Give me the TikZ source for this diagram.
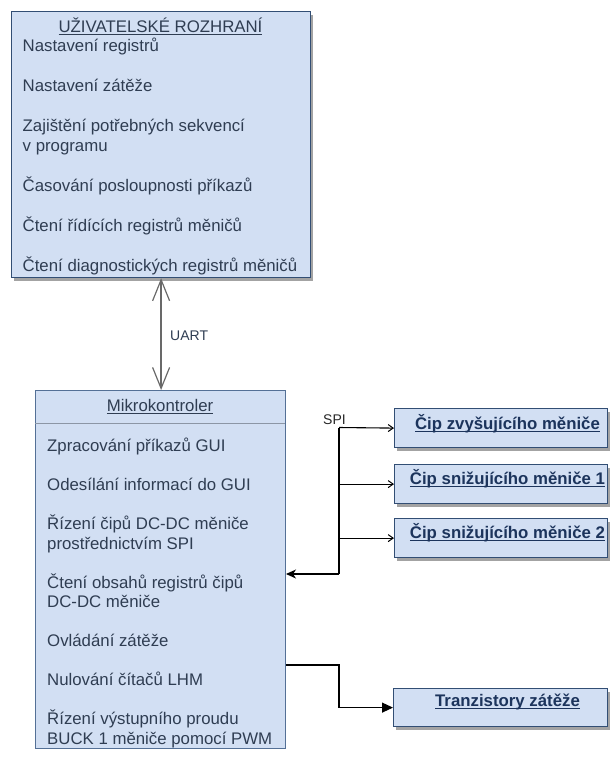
\documentclass[tikz,border=0pt]{standalone}
\usepackage{fontspec}
\setmainfont{Liberation Sans}
\usetikzlibrary{arrows.meta,shadows}
\definecolor{boxfill}{RGB}{210,223,243}
\definecolor{boxline}{RGB}{50,78,116}
\definecolor{mculine}{RGB}{84,112,150}
\definecolor{itemtext}{RGB}{47,61,82}
\definecolor{chiptext}{RGB}{28,52,92}
\definecolor{uartgray}{RGB}{105,105,105}
\definecolor{divgray}{RGB}{140,150,165}
\newcommand\myul[1]{\setbox0\hbox{#1}\rlap{\rule[-2.6pt]{\wd0}{0.9pt}}\box0}
\begin{document}
\begin{tikzpicture}[x=1pt,y=-1pt,
  every node/.style={font=\fontsize{16.8}{20}\selectfont},
  panel/.style={draw=boxline, line width=1.2pt, fill=boxfill, inner sep=0pt, anchor=north west,
    drop shadow={shadow xshift=2.5pt,shadow yshift=-3pt,fill=black!40,opacity=0.9}},
  mcubox/.style={draw=mculine, line width=1pt, fill=boxfill, inner sep=0pt, anchor=north west},
  item/.style={anchor=base west, inner sep=0pt, text=itemtext},
  headtxt/.style={anchor=base, inner sep=0pt, text=itemtext},
  chiptxt/.style={anchor=base, inner sep=0pt, text=chiptext, font=\fontsize{16.8}{20}\selectfont\bfseries},
  smalltxt/.style={anchor=base west, inner sep=0pt, font=\fontsize{14}{16}\selectfont},
  wire/.style={draw=black, line width=1.1pt},
  uart/.style={draw=uartgray, line width=1.9pt,
    arrows={Straight Barb[length=21pt,width=17pt,line width=1.2pt]-Straight Barb[length=21pt,width=17pt,line width=1.2pt]}},
  chiparrow/.style={wire, -{Straight Barb[length=5pt,width=7pt,line width=1pt]}},
  inarrow/.style={wire, -{Stealth[length=10pt,width=9pt,inset=3pt]}},
  trarrow/.style={wire, -{Triangle[length=11pt,width=10pt]}}
]
\useasboundingbox (0,0) rectangle (613,758);

% user interface box
\node[panel, minimum width=299pt, minimum height=266pt] (ui) at (11,11) {};
\node[headtxt] (ut) at (160.5,32) {\myul{UŽIVATELSKÉ ROZHRANÍ}};
\node[item] (u1) at (22.5,51) {Nastavení registrů};
\node[item] (u2) at (22.5,91) {Nastavení zátěže};
\node[item] (u3) at (22.5,131) {Zajištění potřebných sekvencí};
\node[item] (u4) at (22.5,151) {v programu};
\node[item] (u5) at (22.5,191) {Časování posloupnosti příkazů};
\node[item] (u6) at (22.5,231) {Čtení řídících registrů měničů};
\node[item] (u7) at (22.5,271) {Čtení diagnostických registrů měničů};

% microcontroller box
\node[mcubox, minimum width=250pt, minimum height=358pt] (mcu) at (35,390) {};
\coordinate (dvl) at (35,423);
\coordinate (dvr) at (285,423);
\draw[divgray, line width=1pt] (dvl) -- (dvr);
\node[headtxt] (mt) at (160,411.5) {\myul{Mikrokontroler}};
\node[item] (m1) at (47,451.5) {Zpracování příkazů GUI};
\node[item] (m2) at (47,490.5) {Odesílání informací do GUI};
\node[item] (m3) at (47,529.5) {Řízení čipů DC-DC měniče};
\node[item] (m4) at (47,549) {prostřednictvím SPI};
\node[item] (m5) at (47,588) {Čtení obsahů registrů čipů};
\node[item] (m6) at (47,607.5) {DC-DC měniče};
\node[item] (m7) at (47,646.5) {Ovládání zátěže};
\node[item] (m8) at (47,685.5) {Nulování čítačů LHM};
\node[item] (m9) at (47,724.5) {Řízení výstupního proudu};
\node[item] (m10) at (47,744) {BUCK 1 měniče pomocí PWM};

% chip boxes
\node[panel, minimum width=213pt, minimum height=39pt] (c1) at (394,408) {};
\node[panel, minimum width=213pt, minimum height=39pt] (c2) at (394,464) {};
\node[panel, minimum width=213pt, minimum height=39pt] (c3) at (394,518) {};
\node[panel, minimum width=214pt, minimum height=38pt] (tr) at (393,688) {};
\node[chiptxt] (c1t) at (507.5,429) {\myul{Čip zvyšujícího měniče}};
\node[chiptxt] (c2t) at (507.5,484.5) {\myul{Čip snižujícího měniče 1}};
\node[chiptxt] (c3t) at (507.5,538.5) {\myul{Čip snižujícího měniče 2}};
\node[chiptxt] (trt) at (507.5,706) {\myul{Tranzistory zátěže}};

% UART link
\draw[uart] (ui.south) -- (ui.south |- mcu.north);
\node[smalltxt, text=itemtext] (uartlbl) at (170,340.5) {UART};

% SPI bus
\coordinate (spitop) at (339,427.5);
\coordinate (spibot) at (339,574);
\node[smalltxt, text=black!85] (spilbl) at (323,424) {SPI};
\draw[wire] (spitop) -- (spibot);
\draw[chiparrow] (spitop) -- (c1.west);
\draw[chiparrow] (spitop |- c2.west) -- (c2.west);
\draw[chiparrow] (spitop |- c3.west) -- (c3.west);
\draw[inarrow] (spibot) -- (spibot -| mcu.east);

% load transistors
\coordinate (tbend) at (339,665);
\draw[trarrow] (tbend -| mcu.east) -- (tbend) |- (tr.west);
\end{tikzpicture}
\end{document}
